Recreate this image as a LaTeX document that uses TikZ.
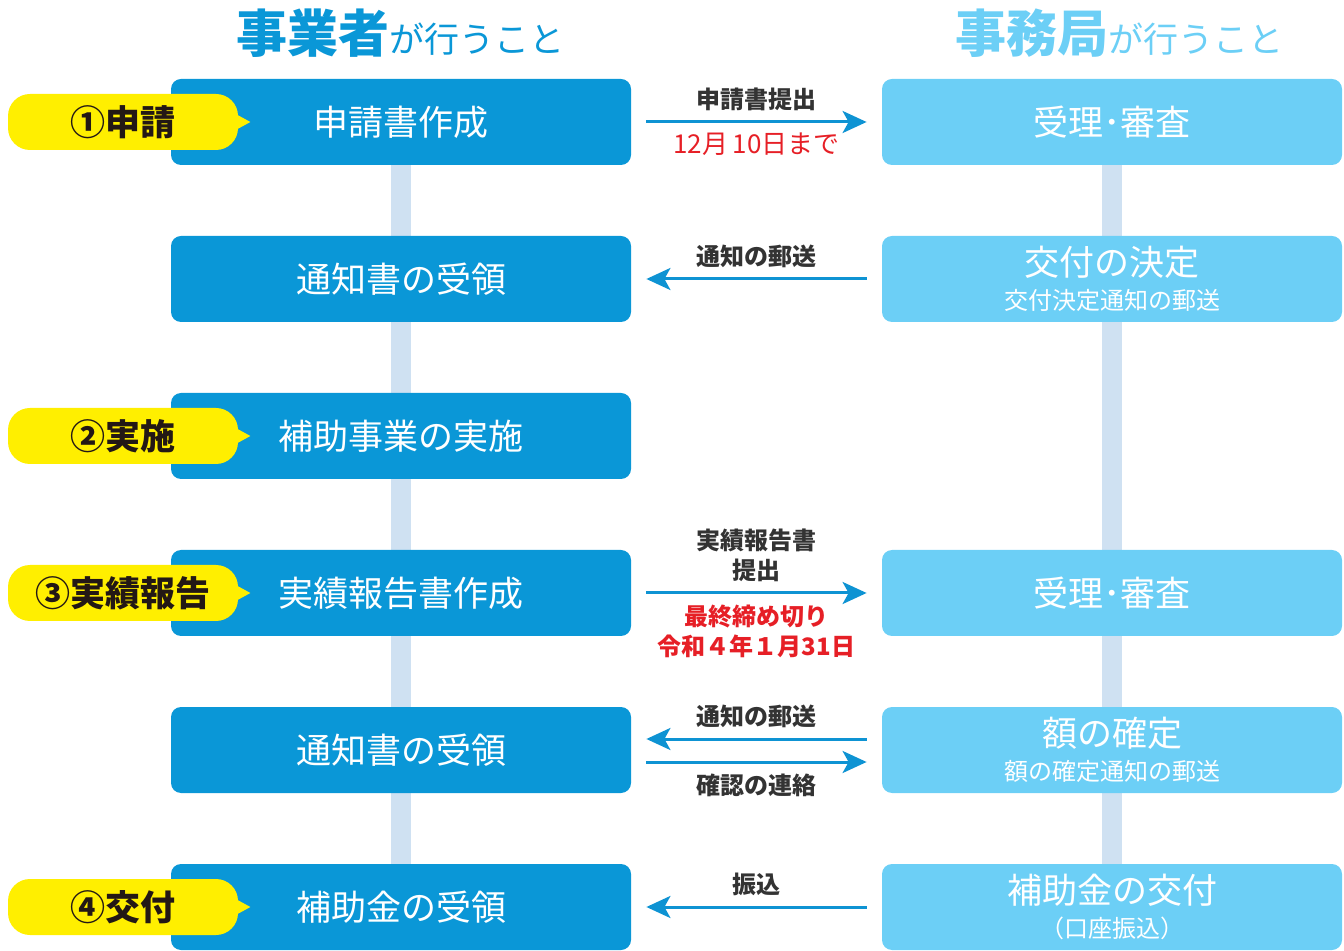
\documentclass[tikz,border=0pt]{standalone}
\usepackage{fontspec}
\setmainfont{Noto Sans CJK JP}
\usepackage{tikz}
\usetikzlibrary{arrows.meta,backgrounds}
\tikzset{>={Stealth[length=12pt,width=11pt,inset=3pt]}}
\definecolor{jigyoblue}{HTML}{0A97D7}
\definecolor{kyokublue}{HTML}{6CCFF6}
\definecolor{tagyellow}{HTML}{FFEF00}
\definecolor{tagtext}{HTML}{231815}
\definecolor{arrowblue}{HTML}{0E93D3}
\definecolor{notegray}{HTML}{333333}
\definecolor{deadred}{HTML}{E61F26}
\definecolor{barblue}{HTML}{CFE1F2}

\begin{document}
\begin{tikzpicture}[x=0.5pt,y=-0.5pt,
	box/.style={rounded corners=5pt,minimum width=230pt,minimum height=43pt,inner sep=0pt,text=white,align=center,font=\fontsize{17.5}{21}\selectfont},
	leftbox/.style={box,fill=jigyoblue},
	rightbox/.style={box,fill=kyokublue},
	tagbox/.style={fill=tagyellow,rounded corners=11pt,minimum width=115pt,minimum height=28pt,inner sep=0pt,text=tagtext,font=\bfseries\fontsize{17.5}{21}\selectfont},
	flow/.style={->,line width=1.5pt,color=arrowblue,shorten <=7.5pt,shorten >=7.5pt},
	note/.style={text=notegray,align=center,inner sep=2pt,font=\bfseries\fontsize{12}{15}\selectfont},
	deadline/.style={text=deadred,align=center,inner sep=2pt,font=\fontsize{13}{15}\selectfont},
	bar/.style={line width=10pt,color=barblue}]

	\useasboundingbox (0,0) rectangle (1344,951);

	% headings
	\node (ttlL) at (400,33) {\color{jigyoblue}\bfseries\fontsize{25.5}{28}\selectfont 事業者\mdseries\fontsize{17.5}{20}\selectfont が行うこと};
	\node (ttlR) at (1119,33) {\color{kyokublue}\bfseries\fontsize{25.5}{28}\selectfont 事務局\mdseries\fontsize{17.5}{20}\selectfont が行うこと};

	% jigyosha side
	\node [leftbox] (a1) at (401,122) {申請書作成};
	\node [leftbox] (a2) at (401,279) {通知書の受領};
	\node [leftbox] (a3) at (401,436) {補助事業の実施};
	\node [leftbox] (a4) at (401,593) {実績報告書作成};
	\node [leftbox] (a5) at (401,750) {通知書の受領};
	\node [leftbox] (a6) at (401,907) {補助金の受領};

	% jimukyoku side
	\node [rightbox] (r1) at (1112,122) {受理･審査};
	\node [rightbox] (r2) at (1112,279) {交付の決定\\[-4pt]{\fontsize{12}{14}\selectfont 交付決定通知の郵送}};
	\node [rightbox] (r4) at (1112,593) {受理･審査};
	\node [rightbox] (r5) at (1112,750) {額の確定\\[-4pt]{\fontsize{12}{14}\selectfont 額の確定通知の郵送}};
	\node [rightbox] (r6) at (1112,907) {補助金の交付\\[-4pt]{\fontsize{12}{14}\selectfont （口座振込）}};

	\begin{scope}[on background layer]
		\draw [bar] (a1) -- (a6);
		\draw [bar] (r1) -- (r6);
	\end{scope}

	% step tags
	\node [tagbox] (t1) at (123,122) {①申請};
	\node [tagbox] (t2) at (123,436) {②実施};
	\node [tagbox] (t3) at (123,593) {③実績報告};
	\node [tagbox] (t4) at (123,907) {④交付};
	\foreach \t in {t1,t2,t3,t4}
		\fill [tagyellow] ([xshift=-5pt,yshift=6pt]\t.east) -- ([xshift=6pt]\t.east) -- ([xshift=-5pt,yshift=-6pt]\t.east) -- cycle;

	% arrows
	\draw [flow] (a1) -- (r1) node [note,midway,above=3pt] (l1) {申請書提出} node [deadline,midway,below=2.5pt] (d1) {12月\,10日まで};
	\draw [flow] (r2) -- (a2) node [note,midway,above=3pt] (l2) {通知の郵送};
	\draw [flow] (a4) -- (r4) node [note,midway,above=3pt] (l4) {実績報告書\\提出} node [deadline,midway,below=3pt,font=\bfseries\fontsize{12}{15}\selectfont] (d4) {最終締め切り\\令和４年１月31日};
	\draw [flow] ([yshift=5.5pt]r5.west) -- ([yshift=5.5pt]a5.east) node [note,midway,above=3pt] (l5) {通知の郵送};
	\draw [flow] ([yshift=-6pt]a5.east) -- ([yshift=-6pt]r5.west) node [note,midway,below=3pt] (l6) {確認の連絡};
	\draw [flow] (r6) -- (a6) node [note,midway,above=3pt] (l7) {振込};
\end{tikzpicture}
\end{document}
